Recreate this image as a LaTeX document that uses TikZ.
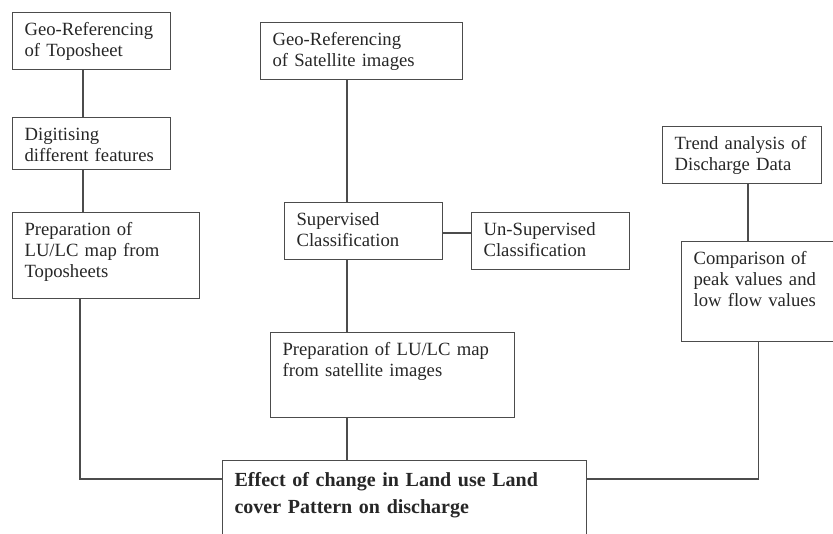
\documentclass[tikz,border=0pt]{standalone}
\usepackage{fontspec}
\setmainfont{Liberation Serif}
\begin{document}
\begin{tikzpicture}[x=0.75pt,y=-0.75pt,
  box/.style={draw=black!70,line width=0.9pt,anchor=north west,align=left,
    inner xsep=9pt,inner ysep=7.5pt,text height=10pt,
    font=\fontsize{14}{15.5}\selectfont,text=black!85},
  link/.style={draw=black!70,line width=0.9pt}]
\useasboundingbox (0,0) rectangle (833,533);
\node[box,text width=100.5pt,text depth=17.75pt] (georef1) at (12,12) {Geo-Referencing\\of Toposheet};
\node[box,text width=100.5pt,text depth=14pt] (digit) at (12,117) {Digitising\\different features};
\node[box,text width=122.25pt,text depth=39.5pt] (prep1) at (12,212) {Preparation of\\LU/LC map from\\Toposheets};
\node[box,text width=133.5pt,text depth=17.75pt] (georef2) at (260,22) {Geo-Referencing\\of Satellite images};
\node[box,text width=100.5pt,text depth=17.75pt] (superv) at (284,202) {Supervised\\Classification};
\node[box,text width=100.5pt,text depth=17.75pt] (unsuperv) at (471,212) {Un-Supervised\\Classification};
\node[box,text width=165pt,text depth=38.75pt] (prep2) at (270,332) {Preparation of LU/LC map\\from satellite images};
\node[box,text width=255pt,text height=12pt,text depth=36.75pt,
  font=\fontsize{15}{20}\selectfont\bfseries] (effect) at (222,460) {Effect of change in Land use Land\\cover Pattern on discharge};
\node[box,text width=101.25pt,text depth=17.75pt] (trend) at (662,126) {Trend analysis of\\Discharge Data};
\node[box,text width=96.75pt,text depth=50pt] (compar) at (681,241) {Comparison of\\peak values and\\low flow values};
\coordinate (colL) at (83,0);
\coordinate (colL2) at (80,0);
\coordinate (colM) at (347,0);
\coordinate (colR) at (748,0);
\coordinate (rowE) at (0,233);
\coordinate (rowH) at (0,479);
\draw[link] (georef1.south -| colL) -- (digit.north -| colL);
\draw[link] (digit.south -| colL) -- (prep1.north -| colL);
\draw[link] (prep1.south -| colL2) |- (effect.west |- rowH);
\draw[link] (georef2.south -| colM) -- (superv.north -| colM);
\draw[link] (superv.east |- rowE) -- (unsuperv.west |- rowE);
\draw[link] (superv.south -| colM) -- (prep2.north -| colM);
\draw[link] (prep2.south -| colM) -- (effect.north -| colM);
\draw[link] (trend.south -| colR) -- (compar.north -| colR);
\draw[link] (compar.south) |- (effect.east |- rowH);
\end{tikzpicture}
\end{document}
